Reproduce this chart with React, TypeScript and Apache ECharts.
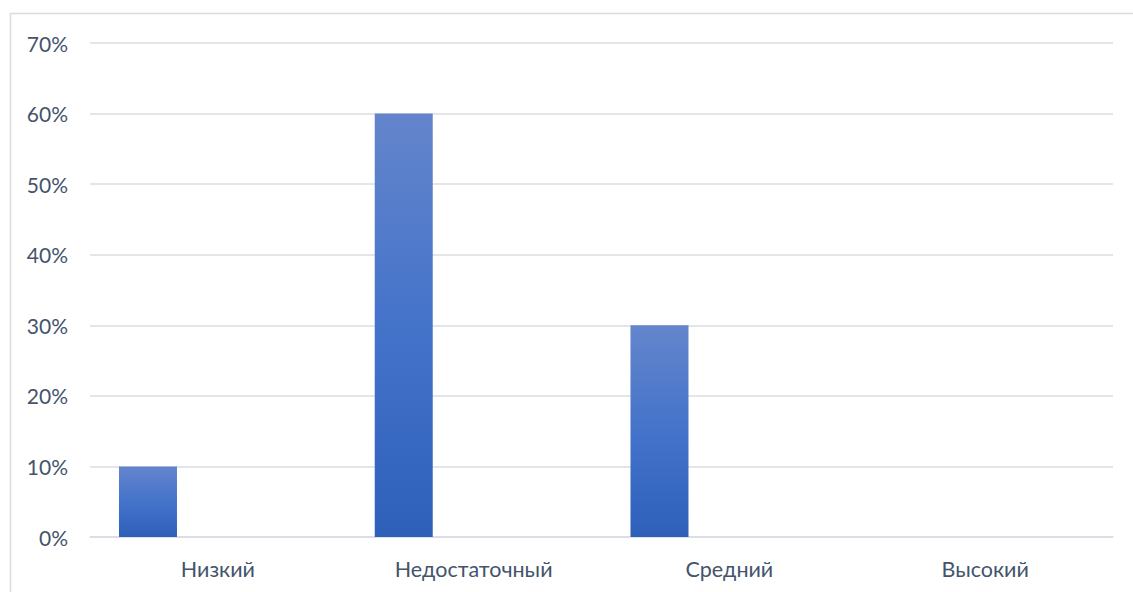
import React, { useEffect, useRef } from "react";
import * as echarts from "echarts";

const categories = ["Низкий", "Недостаточный", "Средний", "Высокий"];
const shareValues = [10, 60, 30, 0];
const emptySeries: (number | null)[] = [null, null, null, null];
const yTicks = { min: 0, max: 70, interval: 10 };

const FONT = 'Lato, "Noto Sans", sans-serif';
const TEXT = "#44546A";

export default function App() {
  const ref = useRef<HTMLDivElement>(null);
  useEffect(() => {
    if (!ref.current) return;
    const chart = echarts.init(ref.current, undefined, { renderer: "svg" });
    const gradient = new echarts.graphic.LinearGradient(0, 0, 0, 1, [
      { offset: 0, color: "#6485CC" },
      { offset: 0.5, color: "#4473CA" },
      { offset: 1, color: "#2E60BA" },
    ]);
    chart.setOption({
      animation: false,
      backgroundColor: "#ffffff",
      grid: { left: 90, right: 20, top: 43, bottom: 55, containLabel: false },
      graphic: [
        {
          type: "rect",
          shape: { x: 10.5, y: 13.5, width: 1200, height: 700 },
          style: { fill: "none", stroke: "#D9DCE3", lineWidth: 1.5 },
          silent: true,
          z: -1,
        },
      ],
      xAxis: {
        type: "category",
        data: categories,
        axisLine: { show: true, lineStyle: { color: "#D9DCE3", width: 1.5 } },
        axisTick: { show: false },
        axisLabel: { color: TEXT, fontFamily: FONT, fontSize: 21.5, margin: 21 },
      },
      yAxis: {
        type: "value",
        min: yTicks.min,
        max: yTicks.max,
        interval: yTicks.interval,
        axisLine: { show: false },
        axisTick: { show: false },
        splitLine: { lineStyle: { color: "#D9DCE3", width: 1.5 } },
        axisLabel: {
          color: TEXT,
          fontFamily: FONT,
          fontSize: 21,
          margin: 22,
          formatter: (v: number) => `${v}%`,
        },
      },
      series: [
        {
          type: "bar",
          data: shareValues,
          barWidth: 58,
          barGap: "141%",
          itemStyle: { color: gradient },
        },
        {
          type: "bar",
          data: emptySeries,
          barWidth: 58,
          itemStyle: { color: "#ED7D31" },
        },
      ],
    });
    return () => chart.dispose();
  }, []);
  return (
    <div
      ref={ref}
      style={{ position: "fixed", left: 0, top: 0, width: 1133, height: 592 }}
    />
  );
}
